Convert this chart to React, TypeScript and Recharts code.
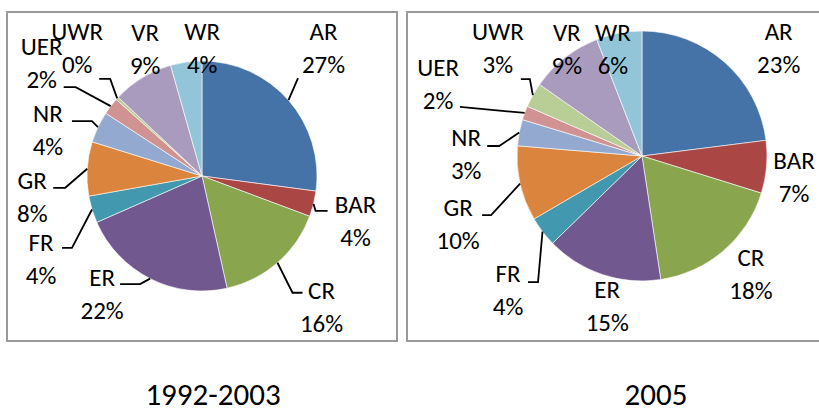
import React from 'react';
import { PieChart, Pie, Cell } from 'recharts';

// Categories shared by both pies
const categories = ['AR', 'BAR', 'CR', 'ER', 'FR', 'GR', 'NR', 'UER', 'UWR', 'VR', 'WR'];

// Shares (percent)
const share1992 = [27.1, 3.6, 15.8, 21.9, 3.8, 7.6, 4.4, 2.4, 0.4, 8.6, 4.4];
const share2005 = [23.0, 6.8, 17.8, 15.1, 3.9, 9.7, 3.4, 1.8, 3.2, 9.4, 5.9];

const periodTitles = ['1992-2003', '2005'];

const sliceColors = [
  '#4572A7', '#AA4643', '#89A54E', '#71588F', '#4198AF', '#DB843D',
  '#93A9CF', '#D19392', '#B9CD96', '#A99BBD', '#92C5D7',
];

interface LabelPlace {
  dx: number; // label block centre, relative to slice edge midpoint
  dy: number;
  lead?: [number, number, number]; // elbow dx, elbow dy, horizontal run
}

// Excel-style label placement for each slice
const placeLeft: LabelPlace[] = [
  { dx: 35, dy: -52, lead: [9.5, -22, 0] },
  { dx: 42, dy: 17, lead: [2, 7, 12] },
  { dx: 44, dy: 44, lead: [15, 30, 10] },
  { dx: -48, dy: 15, lead: [-10, 5.5, -20] },
  { dx: -51, dy: 50, lead: [-20, 38.5, -10] },
  { dx: -55, dy: 28, lead: [-22, 19, -12] },
  { dx: -50, dy: 2.5, lead: [-6, -6, -20] },
  { dx: -69, dy: -43, lead: [-35, -19, -12] },
  { dx: -40, dy: -50, lead: [-7, -19.5, -11] },
  { dx: 3, dy: -29 },
  { dx: 16, dy: -14 },
];

const placeRight: LabelPlace[] = [
  { dx: 54, dy: -14 },
  { dx: 27.5, dy: 10.5 },
  { dx: 27.5, dy: 23 },
  { dx: 5, dy: 31.5 },
  { dx: -34.5, dy: 58, lead: [-4.5, 50.4, -10] },
  { dx: -62, dy: 40, lead: [-29, 31.4, -9] },
  { dx: -53, dy: 21, lead: [-20, 13.4, -12] },
  { dx: -86.6, dy: -29, lead: [-64.6, -6, 0] },
  { dx: -35, dy: -46.6, lead: [-3, -16, -9] },
  { dx: 2, dy: -9 },
  { dx: -6, dy: 15.4 },
];

const data1992 = categories.map((name, i) => ({ name, value: share1992[i] }));
const data2005 = categories.map((name, i) => ({ name, value: share2005[i] }));

const RAD = Math.PI / 180;
const FONT = "Calibri, Carlito, 'Liberation Sans', Arial, sans-serif";

const makeLabel = (places: LabelPlace[]) => (props: any) => {
  const { cx, cy, midAngle, outerRadius, percent, name, index } = props;
  const p = places[index];
  const ex = cx + outerRadius * Math.cos(-midAngle * RAD);
  const ey = cy + outerRadius * Math.sin(-midAngle * RAD);
  const lx = ex + p.dx;
  const ly = ey + p.dy;
  let path = null;
  if (p.lead) {
    const [bx, by, h] = p.lead;
    const kx = ex + bx;
    const ky = ey + by;
    path = (
      <path
        d={`M${ex},${ey}L${kx},${ky}L${kx + h},${ky}`}
        stroke="#000"
        strokeWidth={1.8}
        fill="none"
      />
    );
  }
  return (
    <g key={`lbl-${name}`}>
      {path}
      <text
        x={lx}
        y={ly - 16.5}
        textAnchor="middle"
        dominantBaseline="central"
        fontSize={25}
        fontFamily={FONT}
        fill="#000"
      >
        {name}
      </text>
      <text
        x={lx}
        y={ly + 16.5}
        textAnchor="middle"
        dominantBaseline="central"
        fontSize={25}
        fontFamily={FONT}
        fill="#000"
      >
        {Math.round(percent * 100)}%
      </text>
    </g>
  );
};

const boxStyle: React.CSSProperties = {
  position: 'absolute',
  top: 11,
  height: 331,
  border: '2px solid #9a9a9a',
  boxSizing: 'border-box',
  background: '#fff',
};

const titleStyle: React.CSSProperties = {
  position: 'absolute',
  top: 381,
  width: 200,
  textAlign: 'center',
  fontSize: 31,
  lineHeight: '26px',
  fontFamily: FONT,
  color: '#000',
};

export default function App() {
  return (
    <div
      style={{
        position: 'absolute',
        left: 0,
        top: 0,
        width: 819,
        height: 408,
        overflow: 'hidden',
        background: '#fff',
      }}
    >
      <div style={{ ...boxStyle, left: 6, width: 392 }} />
      <div style={{ ...boxStyle, left: 406, width: 430 }} />

      <div style={{ position: 'absolute', left: 0, top: 0 }}>
        <PieChart width={819} height={408} margin={{ top: 0, right: 0, bottom: 0, left: 0 }}>
          <Pie
            data={data1992}
            dataKey="value"
            nameKey="name"
            cx={202}
            cy={176}
            outerRadius={115}
            startAngle={90}
            endAngle={-270}
            stroke="#fff"
            strokeWidth={0.6}
            label={makeLabel(placeLeft)}
            labelLine={false}
            isAnimationActive={false}
          >
            {data1992.map((d, i) => (
              <Cell key={d.name} fill={sliceColors[i]} />
            ))}
          </Pie>
          <Pie
            data={data2005}
            dataKey="value"
            nameKey="name"
            cx={642}
            cy={156}
            outerRadius={125}
            startAngle={90}
            endAngle={-270}
            stroke="#fff"
            strokeWidth={0.6}
            label={makeLabel(placeRight)}
            labelLine={false}
            isAnimationActive={false}
          >
            {data2005.map((d, i) => (
              <Cell key={d.name} fill={sliceColors[i]} />
            ))}
          </Pie>
        </PieChart>
      </div>

      <div style={{ ...titleStyle, left: 213 - 100 }}>{periodTitles[0]}</div>
      <div style={{ ...titleStyle, left: 656 - 100 }}>{periodTitles[1]}</div>
    </div>
  );
}
